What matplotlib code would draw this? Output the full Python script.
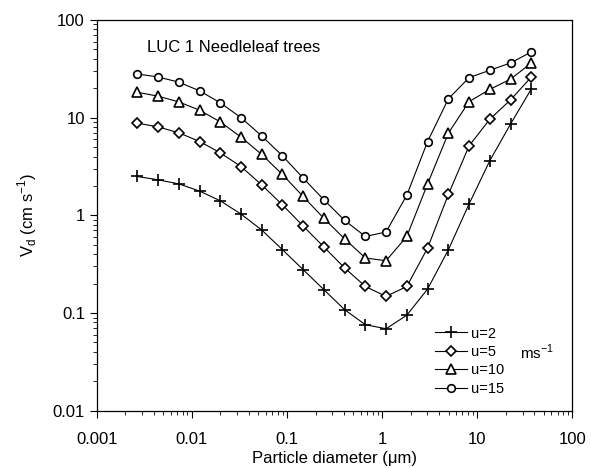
import matplotlib.pyplot as plt

plt.rcParams['font.family'] = ['Liberation Sans', 'DejaVu Sans']

# particle diameter (um)
diam = [0.00267, 0.00442, 0.0073, 0.0121, 0.0199, 0.0329, 0.0543, 0.0897,
        0.148, 0.245, 0.405, 0.668, 1.10, 1.82, 3.01, 4.98, 8.22, 13.6,
        22.4, 37.1]

# deposition velocity (cm/s) for each friction velocity
vd_u2 = [2.50, 2.31, 2.10, 1.77, 1.41, 1.03, 0.708, 0.445, 0.278, 0.173,
         0.108, 0.076, 0.069, 0.095, 0.176, 0.445, 1.31, 3.64, 8.59, 19.7]
vd_u5 = [8.79, 8.05, 7.0, 5.70, 4.37, 3.16, 2.05, 1.28, 0.777, 0.474,
         0.289, 0.187, 0.148, 0.187, 0.463, 1.64, 5.15, 9.66, 15.2, 26.1]
vd_u10 = [18.2, 16.6, 14.5, 11.9, 9.06, 6.32, 4.20, 2.62, 1.56, 0.93,
          0.573, 0.366, 0.343, 0.608, 2.10, 6.95, 14.6, 19.5, 24.8, 36.3]
vd_u15 = [28.0, 26.1, 23.1, 18.8, 14.2, 10.0, 6.5, 4.07, 2.41, 1.44,
          0.887, 0.608, 0.675, 1.61, 5.70, 15.6, 25.7, 30.6, 36.3, 47.1]

labels = ['u=2', 'u=5', 'u=10', 'u=15']
markers = ['+', 'D', '^', 'o']
sizes = [9, 5, 7, 5.5]

xticks = [0.001, 0.01, 0.1, 1, 10, 100]
xtick_labels = ['0.001', '0.01', '0.1', '1', '10', '100']
yticks = [0.01, 0.1, 1, 10, 100]
ytick_labels = ['0.01', '0.1', '1', '10', '100']

fig = plt.figure(figsize=(5.91, 4.68), dpi=100)
ax = fig.add_axes([0.1636, 0.1224, 0.8048, 0.8349])

for vd, lab, m, s in zip([vd_u2, vd_u5, vd_u10, vd_u15], labels, markers, sizes):
    ax.plot(diam, vd, color='black', linewidth=0.8, marker=m, markersize=s,
            markerfacecolor='white', markeredgecolor='black',
            markeredgewidth=1.2, label=lab)

ax.set_xscale('log')
ax.set_yscale('log')
ax.set_xlim(0.001, 100)
ax.set_ylim(0.01, 100)
ax.set_xticks(xticks)
ax.set_xticklabels(xtick_labels)
ax.set_yticks(yticks)
ax.set_yticklabels(ytick_labels)
ax.tick_params(axis='both', which='major', labelsize=12, length=5, width=0.8)
ax.tick_params(axis='x', which='major', pad=10)
ax.tick_params(axis='both', which='minor', length=3, width=0.6)
for sp in ax.spines.values():
    sp.set_linewidth(0.9)

ax.set_xlabel('Particle diameter (\u03bcm)', fontsize=12, labelpad=3)
ax.set_ylabel('V$_\\mathregular{d}$ (cm s$^\\mathregular{-1}$)', fontsize=12,
              labelpad=10)

ax.text(0.105, 0.93, 'LUC 1 Needleleaf trees', transform=ax.transAxes,
        fontsize=12, ha='left', va='center')

ax.legend(loc='lower right', bbox_to_anchor=(0.885, 0.005), frameon=False,
          fontsize=10.5, handlelength=2.2, handletextpad=0.3, labelspacing=0.3)
ax.text(0.89, 0.15, 'ms$^\\mathregular{-1}$', transform=ax.transAxes,
        fontsize=11, ha='left', va='center')

fig.savefig('out.png', dpi=100)
